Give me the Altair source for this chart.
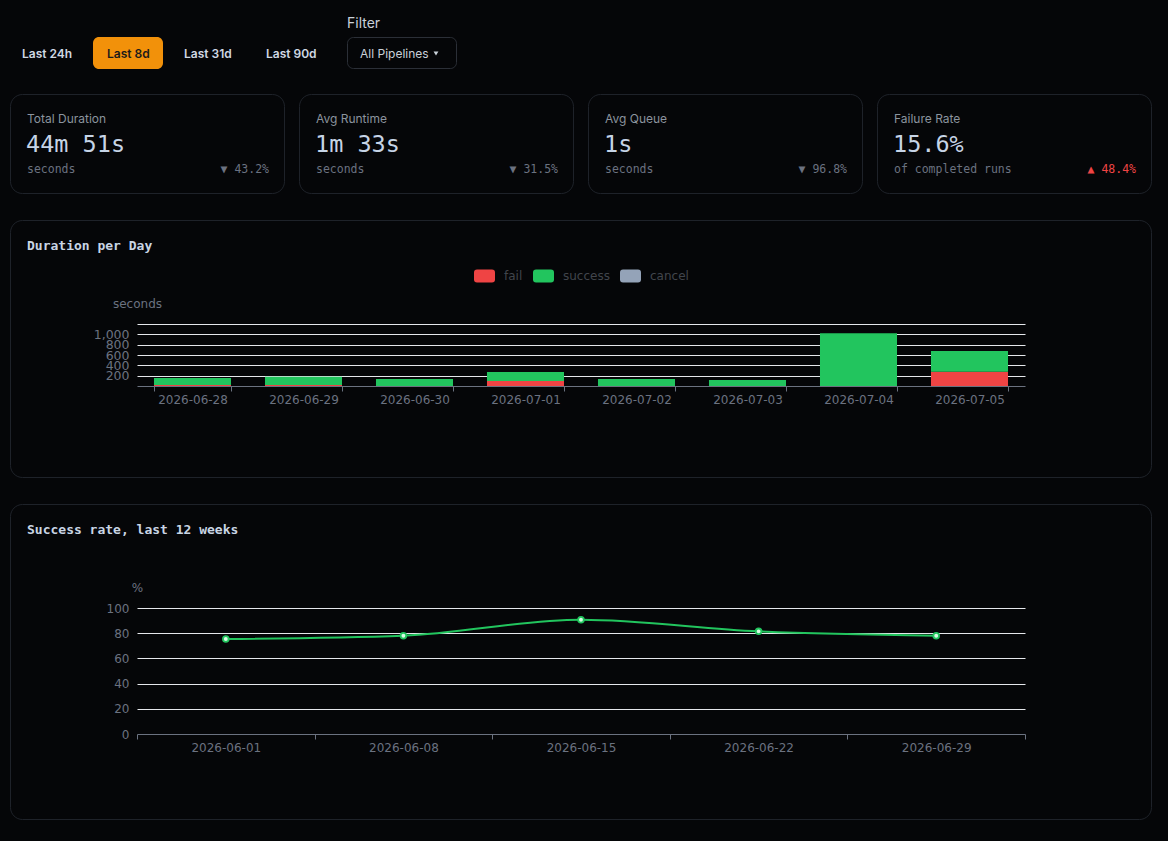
import altair as alt
import pandas as pd

# ---------------- data ----------------
range_buttons = ["Last 24h", "Last 8d", "Last 31d", "Last 90d"]
active_button = "Last 8d"
filter_label = "Filter"
filter_value = "All Pipelines"

kpi_titles = ["Total Duration", "Avg Runtime", "Avg Queue", "Failure Rate"]
kpi_values = ["44m 51s", "1m 33s", "1s", "15.6%"]
kpi_units = ["seconds", "seconds", "seconds", "of completed runs"]
kpi_deltas = ["\u25bc 43.2%", "\u25bc 31.5%", "\u25bc 96.8%", "\u25b2 48.4%"]
kpi_delta_up = [False, False, False, True]

bar_title = "Duration per Day"
days = ["2026-06-28", "2026-06-29", "2026-06-30", "2026-07-01",
        "2026-07-02", "2026-07-03", "2026-07-04", "2026-07-05"]
fail_seconds = [20, 20, 0, 97, 0, 0, 0, 277]
success_seconds = [135, 161, 135, 174, 135, 116, 1021, 400]
cancel_seconds = [0, 0, 0, 0, 0, 0, 0, 0]
statuses = ["fail", "success", "cancel"]
bar_y_ticks = [0, 200, 400, 600, 800, 1000, 1200]

line_title = "Success rate, last 12 weeks"
weeks = ["2026-06-01", "2026-06-08", "2026-06-15", "2026-06-22", "2026-06-29"]
success_rate = [75.4, 78.0, 90.7, 81.5, 78.0]
line_y_ticks = [0, 20, 40, 60, 80, 100]

# ---------------- styles ----------------
PAGE_BG = "#050608"
CARD_STROKE = "#1e2229"
SANS = "Inter"
AXIS_FONT = "DejaVu Sans"
MONO = "DejaVu Sans Mono"
status_colors = ["#ef4444", "#22c55e", "#94a3b8"]
GREY = "#6b7280"
LIGHT = "#c9d5e4"
GRID = "#e5e7eb"

OX = 137  # page x of plot-area origin (same for every section)
PAGE_W = 1168


def one(**kw):
    return alt.Data(values=[kw if kw else {"k": 0}])


def text_layer(s, x, y, top, size=12, font=SANS, color=LIGHT, weight="normal", align="left"):
    return alt.Chart(one(s=s)).mark_text(
        align=align, baseline="middle", font=font, fontSize=size,
        fontWeight=weight, color=color
    ).encode(x=alt.value(x - OX), y=alt.value(y - top), text=alt.Text("s:N"))


def rect_layer(x0, y0, x1, y1, top, fill=None, stroke=None, radius=0):
    kw = dict(cornerRadius=radius)
    if fill is not None:
        kw["fill"] = fill
    else:
        kw["fill"] = PAGE_BG
        kw["fillOpacity"] = 0
    if stroke is not None:
        kw["stroke"] = stroke
        kw["strokeWidth"] = 1
    return alt.Chart(one()).mark_rect(**kw).encode(
        x=alt.value(x0 - OX), x2=alt.value(x1 - OX),
        y=alt.value(y0 - top), y2=alt.value(y1 - top))


# ---------------- header section (page y 0..207) ----------------
H_TOP = 0
header_layers = [rect_layer(0, 0, PAGE_W, 207, H_TOP)]
btn_x = [22, 107, 184, 266]
for label, bx in zip(range_buttons, btn_x):
    if label == active_button:
        header_layers.append(rect_layer(93, 37, 163, 69, H_TOP, fill="#f2910a", radius=6))
        header_layers.append(text_layer(label, bx, 53.5, H_TOP, size=12, weight=600, color="#1a1a1a"))
    else:
        header_layers.append(text_layer(label, bx, 53.5, H_TOP, size=12, weight=600, color="#d0d8e3"))
header_layers.append(text_layer(filter_label, 347, 23.5, H_TOP, size=14, color="#c9d1d9"))
header_layers.append(rect_layer(347.5, 37.5, 456.5, 68.5, H_TOP, stroke="#2b2f37", radius=6))
header_layers.append(text_layer(filter_value, 360, 53.5, H_TOP, size=12, color="#c9d1d9"))
header_layers.append(
    alt.Chart(one()).mark_point(shape="triangle-down", filled=True, size=24, color="#c9d1d9", opacity=1)
    .encode(x=alt.value(436 - OX), y=alt.value(53.5 - H_TOP)))

for i in range(4):
    x0 = 10 + i * 289
    x1 = x0 + 275
    header_layers.append(rect_layer(x0 + 0.5, 94.5, x1 - 0.5, 193.5, H_TOP,
                                    stroke=CARD_STROKE, radius=12))
    header_layers.append(text_layer(kpi_titles[i], x0 + 17, 118.5, H_TOP, size=12, color="#8b949e"))
    header_layers.append(text_layer(kpi_values[i], x0 + 16, 144.5, H_TOP, size=23.5, font=MONO, color="#c6d4e6"))
    header_layers.append(text_layer(kpi_units[i], x0 + 17, 170, H_TOP, size=11.5, font=MONO, color=GREY))
    header_layers.append(text_layer(kpi_deltas[i], x1 - 16, 170, H_TOP, size=11.5, font=MONO,
                                    color="#ef4444" if kpi_delta_up[i] else GREY, align="right"))

header = alt.layer(*header_layers).properties(width=888, height=207)

# ---------------- bar section (page y 207..491, plot 324..386) ----------------
B_TOP = 324
rows = []
for d, f, s, c in zip(days, fail_seconds, success_seconds, cancel_seconds):
    for st, v in zip(statuses, [f, s, c]):
        if v > 0:
            rows.append({"day": d, "status": st, "seconds": v, "rank": statuses.index(st)})
bar_df = pd.DataFrame(rows)

legend_path = ("M-0.714,-0.619 L0.714,-0.619 Q1,-0.619 1,-0.333 L1,0.333 Q1,0.619 0.714,0.619 "
               "L-0.714,0.619 Q-1,0.619 -1,0.333 L-1,-0.333 Q-1,-0.619 -0.714,-0.619 Z")

bars = alt.Chart(bar_df).mark_bar().encode(
    x=alt.X("day:N", sort=days,
            scale=alt.Scale(type="band", paddingInner=0.306, paddingOuter=0.153),
            axis=alt.Axis(title=None, labelAngle=0, tickBand="extent", ticks=True, tickSize=5,
                          tickColor=GREY, domainColor=GREY, labelColor=GREY, labelFont=AXIS_FONT,
                          labelFontSize=12, labelPadding=3, grid=False)),
    y=alt.Y("seconds:Q", stack="zero",
            scale=alt.Scale(domain=[0, 1200], nice=False),
            axis=alt.Axis(values=bar_y_ticks, grid=True,
                          gridColor={"condition": {"test": "datum.value === 0", "value": "transparent"},
                                     "value": GRID},
                          domain=False, ticks=False, tickSize=0, labelPadding=8,
                          labelOverlap=False,
                          labelExpr="datum.value == 0 || datum.value == 1200 ? '' : format(datum.value, ',')",
                          labelColor=GREY, labelFont=AXIS_FONT, labelFontSize=12.5,
                          title="seconds", titleAngle=0, titleX=0, titleY=-21, titleAlign="center",
                          titleBaseline="middle", titleColor=GREY, titleFont=AXIS_FONT,
                          titleFontSize=12, titleFontWeight="normal")),
    color=alt.Color("status:N", scale=alt.Scale(domain=statuses, range=status_colors),
                    legend=alt.Legend(title=None, orient="none", legendX=337, legendY=265.5,
                                      direction="horizontal", symbolType=legend_path, symbolSize=441,
                                      symbolStrokeWidth=0, symbolOpacity=1, labelFont=AXIS_FONT,
                                      labelFontSize=12, labelColor="#41454c", labelOffset=9,
                                      columnPadding=10, padding=0, rowPadding=0)),
    order=alt.Order("rank:Q"),
)

bar_section = alt.layer(
    rect_layer(0, 207, PAGE_W, 491, B_TOP),
    rect_layer(10.5, 220.5, 1151.5, 477.5, B_TOP, stroke=CARD_STROKE, radius=12),
    text_layer(bar_title, 27, 246, B_TOP, size=13, font=MONO, weight="bold", color=LIGHT),
    bars,
).properties(width=888, height=62)

# ---------------- line section (page y 491..841, plot 608..734) ----------------
L_TOP = 608
line_df = pd.DataFrame({"week": weeks, "rate": success_rate})
x_enc = alt.X("week:N", sort=weeks, bandPosition=0.5,
              scale=alt.Scale(type="band", paddingInner=0, paddingOuter=0),
              axis=alt.Axis(title=None, labelAngle=0, tickBand="extent", ticks=True, tickSize=5,
                            tickColor=GREY, domainColor=GREY, labelColor=GREY, labelFont=AXIS_FONT,
                            labelFontSize=12, labelPadding=3, grid=False))
y_enc = alt.Y("rate:Q", scale=alt.Scale(domain=[0, 100], nice=False),
              axis=alt.Axis(values=line_y_ticks, grid=True,
                            gridColor={"condition": {"test": "datum.value === 0", "value": "transparent"},
                                       "value": GRID},
                            domain=False, ticks=False, tickSize=0, labelPadding=8,
                            labelOverlap=False,
                            labelColor=GREY, labelFont=AXIS_FONT, labelFontSize=12,
                            title="%", titleAngle=0, titleX=0, titleY=-21, titleAlign="center",
                            titleBaseline="middle", titleColor=GREY, titleFont=AXIS_FONT,
                            titleFontSize=12, titleFontWeight="normal"))
line = alt.Chart(line_df).mark_line(interpolate="monotone", color="#22c55e", strokeWidth=2).encode(
    x=x_enc, y=y_enc)
pts = alt.Chart(line_df).mark_point(shape="circle", size=32, filled=True, fill="#d9fbe5",
                                    stroke="#22c55e", strokeWidth=1.8, opacity=1).encode(x=x_enc, y=y_enc)

line_section = alt.layer(
    rect_layer(0, 491, PAGE_W, 841, L_TOP),
    rect_layer(10.5, 504.5, 1151.5, 819.5, L_TOP, stroke=CARD_STROKE, radius=12),
    text_layer(line_title, 27, 530, L_TOP, size=13, font=MONO, weight="bold", color=LIGHT),
    line, pts,
).properties(width=888, height=126)

chart = alt.vconcat(header, bar_section, line_section, spacing=0).properties(
    background=PAGE_BG, padding=0
).configure_view(strokeWidth=0)

chart.save("out.html", embed_options={"renderer": "svg", "actions": False})
